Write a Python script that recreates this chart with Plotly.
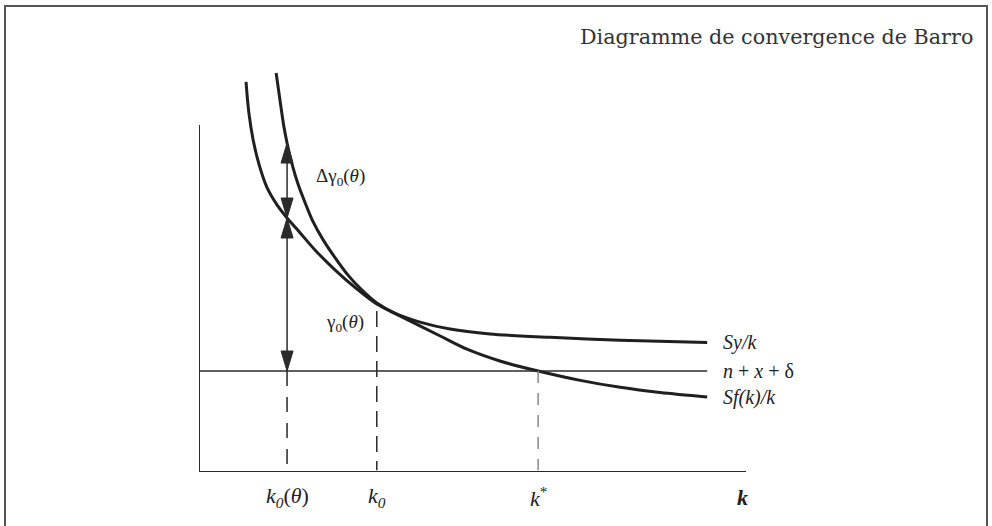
import plotly.graph_objects as go
import numpy as np

# ---- data (arbitrary units) ----
k_sf = [0.86, 0.91, 0.99, 1.10, 1.24, 1.43, 1.61, 1.85, 2.12, 2.49, 2.89, 3.25, 3.67,
        4.41, 4.90, 5.50, 6.20, 6.97, 7.70, 8.43, 9.29]
r_sf = [11.24, 10.37, 9.57, 8.85, 8.21, 7.69, 7.32, 6.89, 6.40, 5.82, 5.27, 4.84, 4.50,
        3.92, 3.54, 3.20, 2.91, 2.64, 2.44, 2.29, 2.16]
k_sy = [1.41, 1.48, 1.55, 1.61, 1.70, 1.81, 1.94, 2.08, 2.27, 2.49, 2.72, 2.98, 3.25,
        3.58, 4.04, 4.59, 5.32, 6.42, 7.70, 9.29]
r_sy = [11.50, 10.72, 9.97, 9.48, 8.88, 8.30, 7.76, 7.23, 6.69, 6.17, 5.68, 5.24, 4.87,
        4.58, 4.32, 4.12, 3.98, 3.88, 3.80, 3.73]
n_x_delta = 2.91          # level of the horizontal line
k_theta = 1.61            # k0(theta)
k_zero = 3.25             # k0
k_star = 6.20             # k*
k_end = 9.29              # right end of drawn curves
y_axis_top = 10.0
x_axis_end = 10.0

curve_labels = ["<i>Sy/k</i>", "<i>n</i> + <i>x</i> + δ", "<i>Sf(k)/k</i>"]
curve_label_levels = [r_sy[-1], n_x_delta, r_sf[-1]]
k_labels = ["<i>k<sub>0</sub></i>(<i>θ</i>)", "<i>k<sub>0</sub></i>", "<i>k</i><sup>*</sup>", "<b><i>k</i></b>"]
title = "Diagramme de convergence de Barro"

# ---- layout geometry (pixels) ----
W, H = 992, 526
px_x0, px_x1 = 199, 746     # x axis from k=0 to k=10
px_y0, px_top = 472, 60     # y=0 at 472 px
sx = (px_x1 - px_x0) / x_axis_end          # px per unit k
sy = (px_y0 - 125) / y_axis_top            # px per unit r
y_range_top = (px_y0 - px_top) / sy

ink = "#1f1f1f"
fig = go.Figure()

fig.add_trace(go.Scatter(x=k_sf, y=r_sf, mode="lines",
                         line=dict(color=ink, width=3, shape="spline", smoothing=0.9),
                         hoverinfo="skip", showlegend=False))
fig.add_trace(go.Scatter(x=k_sy, y=r_sy, mode="lines",
                         line=dict(color=ink, width=3, shape="spline", smoothing=0.8),
                         hoverinfo="skip", showlegend=False))

shapes = []
# axes
shapes.append(dict(type="line", xref="x", yref="y", x0=0, x1=0, y0=0, y1=y_axis_top,
                   line=dict(color="#2a2a2a", width=2)))
shapes.append(dict(type="line", xref="x", yref="y", x0=0, x1=x_axis_end, y0=0, y1=0,
                   line=dict(color="#2a2a2a", width=2)))
# horizontal n+x+delta
shapes.append(dict(type="line", xref="x", yref="y", x0=0, x1=k_end, y0=n_x_delta, y1=n_x_delta,
                   line=dict(color="#2a2a2a", width=1.5)))

gamma_level = float(np.interp(k_theta, k_sf, r_sf))
upper_level = float(np.interp(k_theta, k_sy, r_sy))
k0_level = float(np.interp(k_zero, k_sf, r_sf))

# dashed drop lines
shapes.append(dict(type="line", xref="x", yref="y", x0=k_theta, x1=k_theta,
                   y0=n_x_delta, y1=0.05, line=dict(color="#2a2a2a", width=1.5, dash="15px,11px")))
shapes.append(dict(type="line", xref="x", yref="y", x0=k_zero, x1=k_zero,
                   y0=k0_level - 0.2, y1=0.05, line=dict(color="#2a2a2a", width=1.5, dash="16px,9px")))
shapes.append(dict(type="line", xref="x", yref="y", x0=k_star, x1=k_star,
                   y0=n_x_delta, y1=0.05, line=dict(color="#8a8a8a", width=1.5, dash="12px,10px")))

# vertical arrow line
shapes.append(dict(type="line", xref="x", yref="y", x0=k_theta, x1=k_theta,
                   y0=n_x_delta, y1=upper_level, line=dict(color="#2a2a2a", width=1.5)))

def head(tip, direction):
    L, hw = 20 / sy, 6 / sx
    base = tip - direction * L
    return dict(type="path", xref="x", yref="y",
                path=f"M {k_theta - hw},{base} L {k_theta},{tip} L {k_theta + hw},{base} Z",
                fillcolor="#2a2a2a", line=dict(color="#2a2a2a", width=1))

shapes.append(head(upper_level, +1))
shapes.append(head(gamma_level, -1))
shapes.append(head(gamma_level, +1))
shapes.append(head(n_x_delta, -1))

# outer frame
shapes.append(dict(type="rect", xref="paper", yref="paper", x0=5 / W, x1=987 / W,
                   y0=-0.2, y1=(H - 6) / H, line=dict(color="#555555", width=2)))

lab_font = dict(family="Liberation Serif", size=20, color="#222222")
annotations = []
annotations.append(dict(text=title, xref="paper", yref="paper", x=975 / W, y=(H - 37) / H,
                        xanchor="right", yanchor="middle", showarrow=False,
                        font=dict(family="DejaVu Serif", size=20.7, color="#333333")))
for t, lv in zip(curve_labels, curve_label_levels):
    annotations.append(dict(text=t, xref="x", yref="y", x=(721 - px_x0) / sx, y=lv,
                            xanchor="left", yanchor="middle", showarrow=False, font=lab_font))
for t, kv in zip(k_labels, [k_theta, k_zero, k_star, (742 - px_x0) / sx]):
    annotations.append(dict(text=t, xref="x", yref="paper", x=kv, y=(H - 497) / H,
                            xanchor="center", yanchor="middle", showarrow=False,
                            font=dict(family="Liberation Serif", size=22, color="#222222")))
annotations.append(dict(text="Δγ<sub>0</sub>(<i>θ</i>)", xref="x", yref="y",
                        x=k_theta + (313 - 286) / sx, y=(upper_level + gamma_level) / 2 + 0.1,
                        xanchor="left", yanchor="middle", showarrow=False,
                        font=dict(family="Liberation Serif", size=19, color="#222222")))
annotations.append(dict(text="γ<sub>0</sub>(<i>θ</i>)", xref="x", yref="y",
                        x=k_zero - (377 - 345) / sx, y=(px_y0 - 323) / sy,
                        xanchor="center", yanchor="middle", showarrow=False,
                        font=dict(family="Liberation Serif", size=19, color="#222222")))

fig.update_layout(
    width=W, height=H, margin=dict(l=0, r=0, t=0, b=0),
    paper_bgcolor="white", plot_bgcolor="white",
    xaxis=dict(domain=[px_x0 / W, px_x1 / W], range=[0, x_axis_end], visible=False),
    yaxis=dict(domain=[(H - px_y0) / H, (H - px_top) / H], range=[0, y_range_top], visible=False),
    shapes=shapes, annotations=annotations, showlegend=False,
)
fig.write_html("out.html", config={"displayModeBar": False},
               post_script="document.body.style.margin='0';")
